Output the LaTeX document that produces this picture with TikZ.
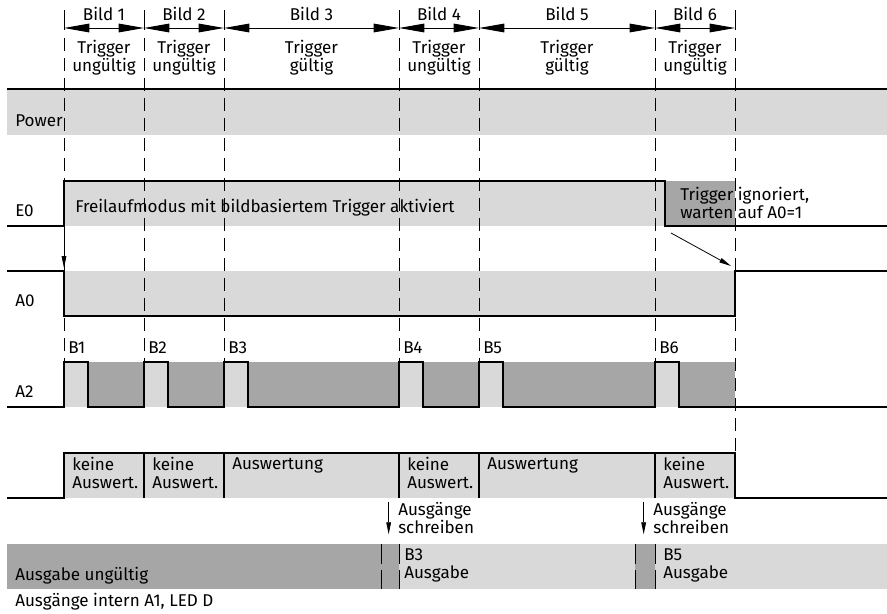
\documentclass[tikz,border=0pt]{standalone}
\usepackage{fontspec}
\setmainfont{Fira Sans}
\usetikzlibrary{arrows.meta,positioning}
\definecolor{lgray}{RGB}{217,217,217}
\definecolor{dgray}{RGB}{166,166,166}
\begin{document}
\begin{tikzpicture}
		[x=0.75pt,y=-0.75pt,
		sig/.style ={draw=black, line width=2.1pt, line join=miter},
		grid/.style ={draw=black, line width=0.6pt, dash pattern=on 10pt off 5pt},
		tick/.style ={draw=black, line width=0.6pt},
		txt/.style ={font=\fontsize{12.8}{13.8}\selectfont, inner sep=0pt, align=left},
		ctxt/.style ={txt, align=center},
		dim/.style ={draw, line width=0.7pt, {Triangle[length=19pt,width=6.5pt]}-{Triangle[length=19pt,width=6.5pt]}},
		hint/.style ={draw, line width=0.6pt, -{Triangle[length=9pt,width=3.5pt]}}]
		\useasboundingbox (0,0) rectangle (887,613);
		\fill[lgray] (7,89) rectangle (887,135);
		\fill[lgray] (64,181) rectangle (665,226);
		\fill[dgray] (665,181) rectangle (735,226);
		\fill[lgray] (64,271) rectangle (735,316);
		\fill[dgray] (64,362) rectangle (735,407);
		\foreach \x in {64,144,224,399,479,655}
			\fill[lgray] (\x,362) rectangle ({\x+24},407);
		\fill[lgray] (64,453) rectangle (735,498);
		\fill[dgray] (7,544) rectangle (399,589);
		\fill[lgray] (399,544) rectangle (887,589);
		\fill[dgray] (635,544) rectangle (655,589);
		\foreach \n/\x in {1/64,2/144,3/224,4/399,5/479,6/655,7/735} {
			\coordinate (d\n) at (\x,28);
			\draw[tick] (\x,10) -- (\x,30);
		}
		\foreach \x in {64,144,224,399,479,655}
			\draw[grid] (\x,38) -- (\x,362);
		\draw[grid] (735,38) -- (735,453);
		\path
		(d1) edge[dim] node[txt, above=5pt] (bild1) {Bild 1} (d2)
		(d2) edge[dim] node[txt, above=5pt] (bild2) {Bild 2} (d3)
		(d3) edge[dim] node[txt, above=5pt] (bild3) {Bild 3} (d4)
		(d4) edge[dim] node[txt, above=5pt] (bild4) {Bild 4} (d5)
		(d5) edge[dim] node[txt, above=5pt] (bild5) {Bild 5} (d6)
		(d6) edge[dim] node[txt, above=5pt] (bild6) {Bild 6} (d7);
		\node[ctxt, below=14pt of bild1] (trig1) {Trigger\\ungültig};
		\node[ctxt, below=14pt of bild2] (trig2) {Trigger\\ungültig};
		\node[ctxt, below=14pt of bild3] (trig3) {Trigger\\gültig};
		\node[ctxt, below=14pt of bild4] (trig4) {Trigger\\ungültig};
		\node[ctxt, below=14pt of bild5] (trig5) {Trigger\\gültig};
		\node[ctxt, below=14pt of bild6] (trig6) {Trigger\\ungültig};
		\draw[sig] (7,89) -- (887,89);
		\draw[sig] (7,226) -- (64,226) -- (64,181) -- (665,181) -- (665,226) coordinate (e0fall) -- (887,226);
		\draw[sig] (7,271) coordinate (a0high) -- (64,271) -- (64,316) -- (735,316) -- (735,271) coordinate (a0rise) -- (887,271);
		\draw[sig] (7,407) \foreach \x in {64,144,224,399,479,655} {
			-- (\x,407) -- (\x,362) -- ({\x+24},362) -- ({\x+24},407) } -- (887,407);
		\draw[sig] (7,498) -- (64,498) -- (64,453) -- (735,453) -- (735,498) -- (887,498);
		\foreach \x in {144,224,399,479,655}
			\draw[sig] (\x,453) -- (\x,498);
		\foreach \x in {381,399,635,655} {
			\draw[tick] (\x,544) -- (\x,564);
			\draw[tick] (\x,570) -- (\x,589);
		}
		\draw (15,121) node[txt, anchor=west] (power) {Power};
		\draw (15,211) node[txt, anchor=west] (e0) {E0};
		\draw (15,301) node[txt, anchor=west] (a0) {A0};
		\draw (15,392) node[txt, anchor=west] (a2) {A2};
		\draw (75,208) node[txt, anchor=west] (freilauf) {Freilaufmodus mit bildbasiertem Trigger aktiviert};
		\draw (680,203) node[txt, anchor=west] (ignoriert) {Trigger ignoriert,\\warten auf A0=1};
		\foreach \n/\x in {1/64,2/144,3/224,4/399,5/479,6/655}
			\draw ({\x+4},348) node[txt, anchor=west] (b\n) {B\n};
		\draw (72,457) node[txt, anchor=north west] (ausw1) {keine\\Auswert.};
		\draw (152,457) node[txt, anchor=north west] (ausw2) {keine\\Auswert.};
		\draw (232,457) node[txt, anchor=north west] (ausw3) {Auswertung};
		\draw (407,457) node[txt, anchor=north west] (ausw4) {keine\\Auswert.};
		\draw (487,457) node[txt, anchor=north west] (ausw5) {Auswertung};
		\draw (663,457) node[txt, anchor=north west] (ausw6) {keine\\Auswert.};
		\draw (398,502) node[txt, anchor=north west] (schreib1) {Ausgänge\\schreiben};
		\draw (653,502) node[txt, anchor=north west] (schreib2) {Ausgänge\\schreiben};
		\draw (15,576) node[txt, anchor=west] (ungueltig) {Ausgabe ungültig};
		\draw (404,548) node[txt, anchor=north west] (ausgabe3) {B3\\Ausgabe};
		\draw (663,548) node[txt, anchor=north west] (ausgabe5) {B5\\Ausgabe};
		\draw (15,602) node[txt, anchor=west] (intern) {Ausgänge intern A1, LED D};
		\coordinate (e0low) at (64,229);
		\coordinate (a0top) at (64,268);
		\draw[hint] (e0low) -- (a0top);
		\draw[hint] ([shift={(6,7)}]e0fall) -- ([shift={(-4,-5)}]a0rise);
		\draw[hint] ([xshift=-7pt]schreib1.north west) -- ([xshift=-7pt]schreib1.south west);
		\draw[hint] ([xshift=-7pt]schreib2.north west) -- ([xshift=-7pt]schreib2.south west);
	\end{tikzpicture}
\end{document}
